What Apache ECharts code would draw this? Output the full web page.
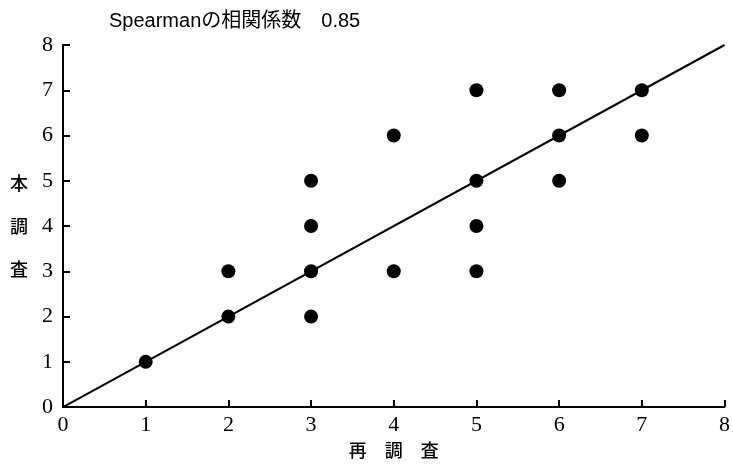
<!DOCTYPE html>
<html>
<head>
<meta charset="utf-8">
<script src="https://cdn.jsdelivr.net/npm/echarts@6/dist/echarts.min.js"></script>
<style>
  html, body { margin: 0; padding: 0; background: #fff; }
  #chart { width: 733px; height: 464px; }
</style>
</head>
<body>
<div id="chart"></div>
<script>
// Re-survey score (x) vs. main survey score (y)
const resurveyScores = [1, 2, 2, 3, 3, 3, 3, 4, 4, 5, 5, 5, 5, 6, 6, 6, 7, 7];
const mainScores     = [1, 2, 3, 2, 3, 4, 5, 3, 6, 3, 4, 5, 7, 5, 6, 7, 6, 7];
// Reference line y = x across the full range
const refLineX = [0, 8];
const refLineY = [0, 8];
const axisTicks = [0, 1, 2, 3, 4, 5, 6, 7, 8];
const titleText = 'Spearmanの相関係数　0.85';

const points = resurveyScores.map((x, i) => [x, mainScores[i]]);
const refLine = refLineX.map((x, i) => [x, refLineY[i]]);

const numFont = '"Liberation Serif", "DejaVu Serif", serif';
const jpFont = '"Noto Sans CJK JP", sans-serif';

const axisCommon = {
  type: 'value',
  min: axisTicks[0],
  max: axisTicks[axisTicks.length - 1],
  interval: 1,
  splitLine: { show: false },
  axisLine: { lineStyle: { color: '#000', width: 2 } },
  axisTick: { inside: true, length: 7, lineStyle: { color: '#000', width: 2 } },
  axisLabel: { color: '#000', fontSize: 22, fontFamily: numFont, margin: 7 }
};

const chart = echarts.init(document.getElementById('chart'));
chart.setOption({
  animation: false,
  backgroundColor: '#fff',
  title: {
    text: titleText,
    left: 104,
    top: 6,
    textStyle: { color: '#000', fontSize: 20, fontWeight: 'normal', fontFamily: '"Liberation Sans", ' + jpFont }
  },
  grid: { left: 63, right: 6, top: 45, bottom: 55, containLabel: false },
  xAxis: Object.assign({}, axisCommon, {
    name: '再　調　査',
    nameLocation: 'middle',
    nameGap: 22,
    nameTextStyle: { color: '#000', fontSize: 18, fontWeight: 500, fontFamily: jpFont }
  }),
  yAxis: Object.assign({}, axisCommon, {
    axisLabel: Object.assign({}, axisCommon.axisLabel, { margin: 10 }),
    name: '本\n調\n査',
    nameLocation: 'middle',
    nameRotate: 0,
    nameGap: 35,
    nameTextStyle: { color: '#000', fontSize: 18, fontWeight: 500, lineHeight: 43, fontFamily: jpFont }
  }),
  series: [
    {
      type: 'line',
      data: refLine,
      symbol: 'none',
      lineStyle: { color: '#000', width: 2 },
      silent: true
    },
    {
      type: 'scatter',
      data: points,
      symbol: 'circle',
      symbolSize: 14,
      itemStyle: { color: '#000', opacity: 1 }
    }
  ]
});
</script>
</body>
</html>
